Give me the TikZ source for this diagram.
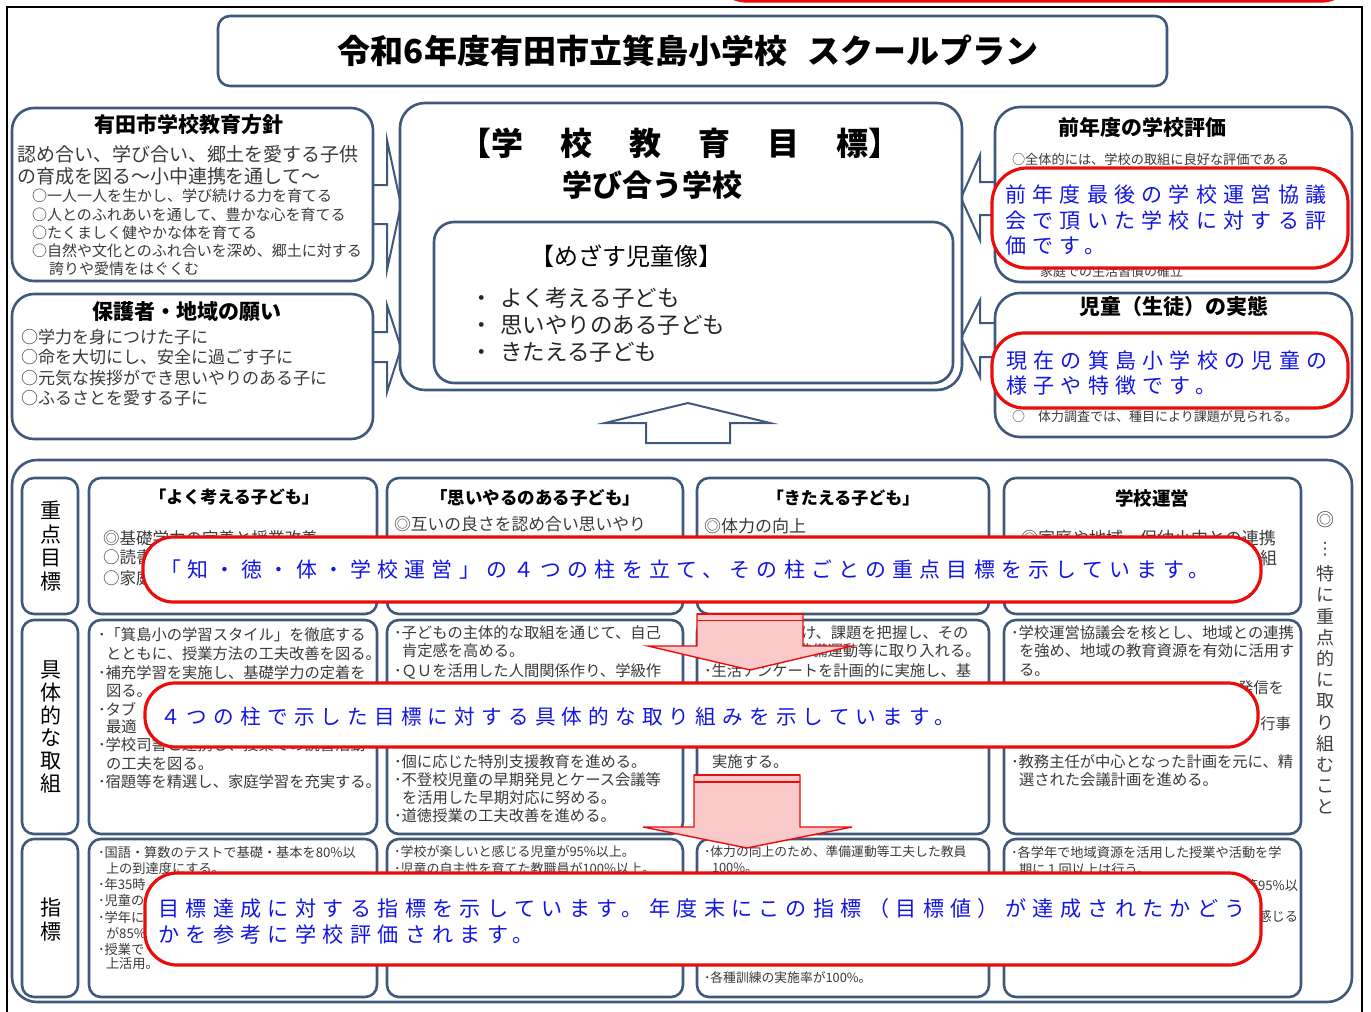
\documentclass[tikz,border=0pt]{standalone}
\usepackage{fontspec}
\setmainfont{Noto Sans CJK JP}
\newfontfamily\cfont{Noto Sans CJK JP}[LetterSpace=30]
\newfontfamily\djv{DejaVu Sans}
\definecolor{bx}{RGB}{64,88,124}
\definecolor{cred}{RGB}{236,12,12}
\definecolor{cblue}{RGB}{18,22,228}
\definecolor{pinkf}{RGB}{250,202,202}
\definecolor{txtc}{RGB}{58,58,58}
\newcommand\fs[1]{\fontsize{#1}{#1}\selectfont}
\newcommand\boxn[6]{\node[#6,anchor=north west,minimum width={#4pt-#2pt},minimum height={#5pt-#3pt},inner sep=0pt,outer sep=0pt] (#1) at (#2,#3) {};}
\newcommand\gp{\hspace{37pt}}
\begin{document}
\begin{tikzpicture}[x=1pt,y=-1pt,
 panel/.style={draw=bx,line width=2.6pt,fill=white,rounded corners=#1},
 panel/.default=13pt,
 redcall/.style={draw=cred,line width=3.2pt,fill=white,rounded corners=#1},
 redcall/.default=30pt,
 tl/.style={inner sep=0pt,outer sep=0pt,anchor=west,text=txtc},
 tr/.style={inner sep=0pt,outer sep=0pt,anchor=east,text=txtc},
 hd/.style={inner sep=0pt,text=black},
 blarrow/.style={draw=bx,line width=2pt,fill=white,line join=miter},
 pkarrow/.style={draw=cred,line width=1.4pt,fill=pinkf,line join=miter},
 ct/.style={inner sep=0pt,anchor=west,text=cblue},
 vt/.style={inner sep=0pt,align=center,text=black}]
\useasboundingbox (0,0) rectangle (1371,1012);
\clip (0,0) rectangle (1371,1012);
\fill[white] (0,0) rectangle (1371,1012);
% outer frame
\draw[black,line width=1.6pt] (7,1020) -- (7,7) -- (1362,7) -- (1362,1020);
% partial callout at top
\draw[cred,line width=3.2pt,rounded corners=30pt] (716,-80) -- (716,1) -- (1352,1) -- (1352,-80);

% blue block arrows
\draw[blarrow] (370,185) -- (387,185) -- (387,140) -- (401,205) -- (387,270) -- (387,224) -- (370,224) -- cycle;
\draw[blarrow] (370,332) -- (387,332) -- (387,305) -- (401,348) -- (387,392) -- (387,362) -- (370,362) -- cycle;
\draw[blarrow] (999,182) -- (980,182) -- (980,155) -- (961,198) -- (980,240) -- (980,215) -- (999,215) -- cycle;
\draw[blarrow] (999,323) -- (980,323) -- (980,300) -- (961,338) -- (980,377) -- (980,357) -- (999,357) -- cycle;
\draw[blarrow] (646,443) -- (646,423) -- (605,423) -- (688,403) -- (770,423) -- (730,423) -- (730,443) -- cycle;

% title
\boxn{titlebox}{218}{16}{1167}{86}{panel=12pt}
\node[hd,font={\fs{33}\bfseries}] (title) at (688,51) {令和6年度有田市立箕島小学校\hspace{20pt}スクールプラン};

% top-left panel
\boxn{pA}{12}{108}{373}{281}{panel=22pt}
\node[hd,font={\fs{21}\bfseries}] (pAh) at (189,125) {有田市学校教育方針};
\node[tl,font=\fs{19}] (pA1) at (17,154) {認め合い、学び合い、郷土を愛する子供};
\node[tl,font=\fs{19}] (pA2) at (17,176) {の育成を図る～小中連携を通して～};
\node[tl,font=\fs{15}] (pA3) at (32,196) {○一人一人を生かし、学び続ける力を育てる};
\node[tl,font=\fs{15}] (pA4) at (32,215) {○人とのふれあいを通して、豊かな心を育てる};
\node[tl,font=\fs{15}] (pA5) at (32,233) {○たくましく健やかな体を育てる};
\node[tl,font=\fs{15}] (pA6) at (32,251) {○自然や文化とのふれ合いを深め、郷土に対する};
\node[tl,font=\fs{15}] (pA7) at (49,269) {誇りや愛情をはぐくむ};

% left-middle panel
\boxn{pB}{12}{294}{373}{439}{panel=22pt}
\node[hd,font={\fs{21}\bfseries}] (pBh) at (187,312) {保護者・地域の願い};
\node[tl,font=\fs{17}] (pB1) at (21,337) {○学力を身につけた子に};
\node[tl,font=\fs{17}] (pB2) at (21,357) {○命を大切にし、安全に過ごす子に};
\node[tl,font=\fs{17}] (pB3) at (21,378) {○元気な挨拶ができ思いやりのある子に};
\node[tl,font=\fs{17}] (pB4) at (21,398) {○ふるさとを愛する子に};

% centre panel
\boxn{pC}{400}{103}{962}{390}{panel=25pt}
\node[hd,font={\fs{32}\bfseries}] (pCh) at (680,143) {【学\gp 校\gp 教\gp 育\gp 目\gp 標】};
\node[hd,font={\fs{30}\bfseries}] (pCs) at (652,185) {学び合う学校};
\boxn{pD}{434}{222}{953}{383}{panel=20pt}
\node[hd,font=\fs{24}] (pDh) at (626,256) {【めざす児童像】};
\node[tl,text=black!85,font=\fs{22.5}] (pD1) at (470,298) {・\hspace{8pt}よく考える子ども};
\node[tl,text=black!85,font=\fs{22.5}] (pD2) at (470,325) {・\hspace{8pt}思いやりのある子ども};
\node[tl,text=black!85,font=\fs{22.5}] (pD3) at (470,352) {・\hspace{8pt}きたえる子ども};

% right panels
\boxn{pE}{995}{107}{1352}{282}{panel=25pt}
\node[hd,font={\fs{21}\bfseries}] (pEh) at (1142,127) {前年度の学校評価};
\node[tl,font=\fs{13.2}] (pE1) at (1012,159) {○全体的には、学校の取組に良好な評価である};
\node[tl,font=\fs{13}] (pE2) at (1040,272) {家庭での生活習慣の確立};
\boxn{pF}{995}{293}{1352}{437}{panel=25pt}
\node[hd,font={\fs{21}\bfseries}] (pFh) at (1174,307) {児童（生徒）の実態};
\node[tl,font=\fs{13}] (pF1) at (1012,417) {○　体力調査では、種目により課題が見られる。};

% lower big panel
\boxn{pG}{12}{460}{1352}{1002}{panel=25pt}
% row labels
\boxn{L1}{22}{478}{78}{614}{panel=12pt}
\boxn{L2}{22}{620}{78}{834}{panel=12pt}
\boxn{L3}{22}{839}{78}{997}{panel=12pt}
\node[vt,font={\fontsize{21}{23.5}\selectfont}] (L1t) at (51,546) {重\\点\\目\\標};
\node[vt,font={\fontsize{21}{22.8}\selectfont}] (L2t) at (51,727) {具\\体\\的\\な\\取\\組};
\node[vt,font={\fontsize{21}{24}\selectfont}] (L3t) at (51,920) {指\\標};
% grid boxes
\boxn{a1}{89}{478}{377}{614}{panel=12pt}
\boxn{b1}{387}{478}{683}{614}{panel=12pt}
\boxn{c1}{697}{478}{989}{614}{panel=12pt}
\boxn{d1}{1004}{478}{1301}{614}{panel=12pt}
\boxn{a2}{89}{620}{377}{834}{panel=12pt}
\boxn{b2}{387}{620}{683}{834}{panel=12pt}
\boxn{c2}{697}{620}{989}{834}{panel=12pt}
\boxn{d2}{1004}{620}{1301}{834}{panel=12pt}
\boxn{a3}{89}{839}{377}{997}{panel=12pt}
\boxn{b3}{387}{839}{683}{997}{panel=12pt}
\boxn{c3}{697}{839}{989}{997}{panel=12pt}
\boxn{d3}{1004}{839}{1301}{997}{panel=12pt}
% right vertical note
\node[hd,text=black!75,font=\fs{18}] (v0) at (1325,520) {◎};
\node[hd,text=black!75,font={\djv\fs{17}}] (v1) at (1325,549) {⋮};
\node[vt,text=black!75,font={\fontsize{18}{21.2}\selectfont}] (v2) at (1325,690) {特\\に\\重\\点\\的\\に\\取\\り\\組\\む\\こ\\と};

% row 1 texts
\node[hd,font={\fs{17}\bfseries}] (a1h) at (234,497) {「よく考える子ども」};
\node[hd,font={\fs{17.5}\bfseries}] (b1h) at (535,498) {「思いやるのある子ども」};
\node[hd,font={\fs{17}\bfseries}] (c1h) at (843,498) {「きたえる子ども」};
\node[hd,font={\fs{18.5}\bfseries}] (d1h) at (1152,498) {学校運営};
\node[tl,font=\fs{16.5}] (a11) at (103,538) {◎基礎学力の定着と授業改善};
\node[tl,font=\fs{16.5}] (a12) at (103,557) {○読書};
\node[tl,font=\fs{16.5}] (a13) at (103,578) {○家庭};
\node[tl,font=\fs{16.8}] (b11) at (394,524) {◎互いの良さを認め合い思いやり};
\node[tl,font=\fs{17}] (c11) at (704,526) {◎体力の向上};
\node[tl,font=\fs{17}] (d11) at (1021,538) {◎家庭や地域、保幼小中との連携};
\node[tr,font=\fs{17}] (d12) at (1277,558) {組};

% row 2 texts
\node[tl,font=\fs{15.3}] (a21) at (98,635) {･「箕島小の学習スタイル」を徹底する};
\node[tl,font=\fs{15.3}] (a22) at (106,654) {とともに、授業方法の工夫改善を図る。};
\node[tl,font=\fs{15.3}] (a23) at (98,673) {･補充学習を実施し、基礎学力の定着を};
\node[tl,font=\fs{15.3}] (a24) at (106,691) {図る。};
\node[tl,font=\fs{15.3}] (a25) at (98,709) {･タブ};
\node[tl,font=\fs{15.3}] (a26) at (106,727) {最適};
\node[tl,font=\fs{15.3}] (a27) at (98,745) {･学校司書と連携し、授業での読書活動};
\node[tl,font=\fs{15.3}] (a28) at (106,764) {の工夫を図る。};
\node[tl,font=\fs{15.3}] (a29) at (98,782) {･宿題等を精選し、家庭学習を充実する。};
\node[tl,font=\fs{15.3}] (b21) at (394,633) {･子どもの主体的な取組を通じて、自己};
\node[tl,font=\fs{15.3}] (b22) at (402,651) {肯定感を高める。};
\node[tl,font=\fs{15.3}] (b23) at (394,671) {･ＱＵを活用した人間関係作り、学級作};
\node[tl,font=\fs{15.3}] (b24) at (394,762) {･個に応じた特別支援教育を進める。};
\node[tl,font=\fs{15.3}] (b25) at (394,780) {･不登校児童の早期発見とケース会議等};
\node[tl,font=\fs{15.3}] (b26) at (402,798) {を活用した早期対応に努める。};
\node[tl,font=\fs{15.3}] (b27) at (394,816) {･道徳授業の工夫改善を進める。};
\node[tl,font=\fs{15.3}] (c21) at (801,633) {け、課題を把握し、その};
\node[tl,font=\fs{15.3}] (c22) at (797,651) {準備運動等に取り入れる。};
\node[tl,font=\fs{15.3}] (c23) at (704,671) {･生活アンケートを計画的に実施し、基};
\node[tl,font=\fs{15.3}] (c24) at (712,762) {実施する。};
\node[tl,font=\fs{15.3}] (d21) at (1011,633) {･学校運営協議会を核とし、地域との連携};
\node[tl,font=\fs{15.3}] (d22) at (1019,651) {を強め、地域の教育資源を有効に活用す};
\node[tl,font=\fs{15.3}] (d23) at (1019,670) {る。};
\node[tr,font=\fs{15.3}] (d24) at (1284,688) {発信を};
\node[tr,font=\fs{15.3}] (d25) at (1291,724) {行事};
\node[tl,font=\fs{15.3}] (d26) at (1011,762) {･教務主任が中心となった計画を元に、精};
\node[tl,font=\fs{15.3}] (d27) at (1019,780) {選された会議計画を進める。};

% row 3 texts
\node[tl,font=\fs{13.2}] (a31) at (98,852) {･国語・算数のテストで基礎・基本を80\%以};
\node[tl,font=\fs{13.2}] (a32) at (106,868) {上の到達度にする。};
\node[tl,font=\fs{13.2}] (a33) at (98,884) {･年35時};
\node[tl,font=\fs{13.2}] (a34) at (98,901) {･児童の};
\node[tl,font=\fs{13.2}] (a35) at (98,917) {･学年に};
\node[tl,font=\fs{13.2}] (a36) at (106,933) {が85\%};
\node[tl,font=\fs{13.2}] (a37) at (98,949) {･授業で};
\node[tl,font=\fs{13.2}] (a38) at (106,964) {上活用。};
\node[tl,font=\fs{13}] (b31) at (394,852) {･学校が楽しいと感じる児童が95\%以上。};
\node[tl,font=\fs{13}] (b32) at (394,869) {･児童の自主性を育てた教職員が100\%以上。};
\node[tl,font=\fs{12.8}] (c31) at (704,852) {･体力の向上のため、準備運動等工夫した教員};
\node[tl,font=\fs{12.8}] (c32) at (712,868) {100\%。};
\node[tl,font=\fs{12.8}] (c33) at (704,978) {･各種訓練の実施率が100\%。};
\node[tl,font=\fs{13.2}] (d31) at (1011,852) {･各学年で地域資源を活用した授業や活動を学};
\node[tl,font=\fs{13.2}] (d32) at (1019,869) {期に１回以上は行う。};
\node[tr,font=\fs{13.2}] (d33) at (1298,885) {等95\%以};
\node[tr,font=\fs{13.2}] (d34) at (1298,916) {感じる};

% pink arrows
\draw[pkarrow] (697,614) -- (803,614) -- (803,646) -- (852,646) -- (750,670) -- (648,646) -- (697,646) -- cycle;
\draw[cred,line width=2.6pt] (697,614) -- (803,614);
\draw[cred,line width=1.6pt] (697,620.5) -- (803,620.5);
\draw[pkarrow] (694,775) -- (800,775) -- (800,827) -- (852,827) -- (747,848) -- (643,827) -- (694,827) -- cycle;
\draw[cred,line width=2.6pt] (694,775) -- (800,775);
\draw[cred,line width=1.6pt] (694,782) -- (800,782);

% red callouts
\boxn{k1}{992}{168}{1348}{268}{redcall=35pt}
\node[ct,font={\cfont\fs{21}}] (k1a) at (1005,195) {前年度最後の学校運営協議};
\node[ct,font={\cfont\fs{21}}] (k1b) at (1005,220) {会で頂いた学校に対する評};
\node[ct,font={\cfont\fs{21}}] (k1c) at (1005,246) {価です。};
\boxn{k2}{992}{333}{1348}{408}{redcall=32pt}
\node[ct,font={\cfont\fs{21}}] (k2a) at (1006,361) {現在の箕島小学校の児童の};
\node[ct,font={\cfont\fs{21}}] (k2b) at (1006,386) {様子や特徴です。};
\boxn{k3}{143}{537}{1261}{602}{redcall=30pt}
\node[ct,font={\cfont\fs{20.9}}] (k3a) at (160,570) {「知・徳・体・学校運営」の４つの柱を立て、その柱ごとの重点目標を示しています。};
\boxn{k4}{145}{683}{1258}{747}{redcall=30pt}
\node[ct,font={\cfont\fs{20.6}}] (k4a) at (160,717) {４つの柱で示した目標に対する具体的な取り組みを示しています。};
\boxn{k5}{145}{873}{1261}{965}{redcall=32pt}
\node[ct,font={\cfont\fs{21.1}}] (k5a) at (158,908) {目標達成に対する指標を示しています。年度末にこの指標（目標値）が達成されたかどう};
\node[ct,font={\cfont\fs{21.1}}] (k5b) at (158,934) {かを参考に学校評価されます。};
\end{tikzpicture}
\end{document}
